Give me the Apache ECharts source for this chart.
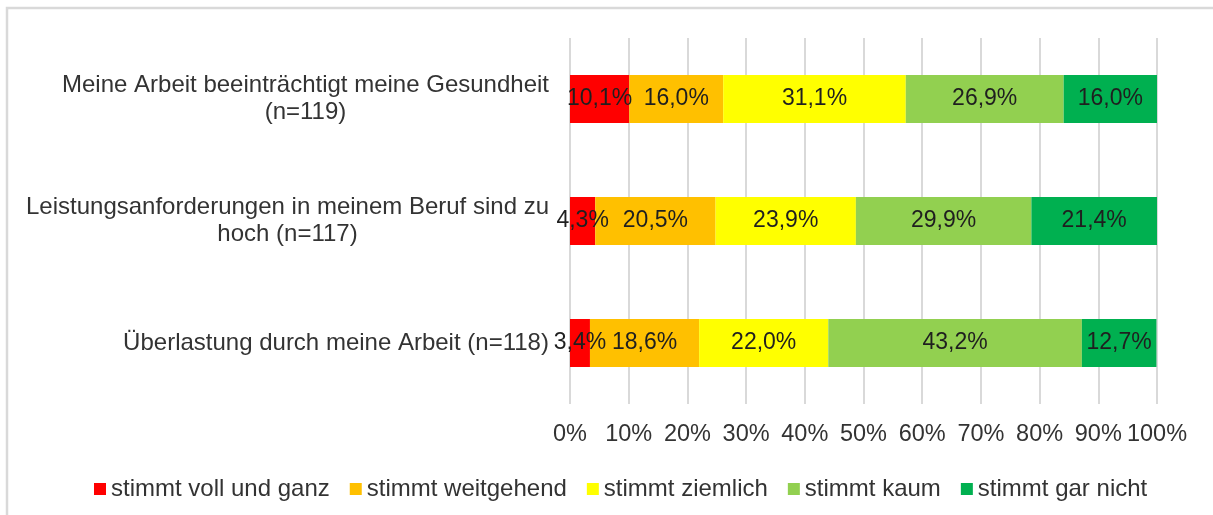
<!DOCTYPE html>
<html>
<head>
<meta charset="utf-8">
<script src="https://cdn.jsdelivr.net/npm/echarts@6/dist/echarts.min.js"></script>
<style>
  html, body { margin: 0; padding: 0; background: #fff; }
  #main { width: 1213px; height: 515px; }
</style>
</head>
<body>
<div id="main"></div>
<script>
// Kategorien (Zeilen, von oben nach unten)
var categories = [
  ['Meine Arbeit beeinträchtigt meine Gesundheit', '(n=119)'],
  ['Leistungsanforderungen in meinem Beruf sind zu', 'hoch (n=117)'],
  ['Überlastung durch meine Arbeit (n=118)']
];
var seriesNames = ['stimmt voll und ganz', 'stimmt weitgehend', 'stimmt ziemlich', 'stimmt kaum', 'stimmt gar nicht'];
var colors = ['#ff0000', '#ffc000', '#ffff00', '#92d050', '#00b050'];
// Werte in %, je Antwort eine Liste (Reihenfolge wie categories)
var vollUndGanz = [10.1, 4.3, 3.4];
var weitgehend = [16.0, 20.5, 18.6];
var ziemlich = [31.1, 23.9, 22.0];
var kaum = [26.9, 29.9, 43.2];
var garNicht = [16.0, 21.4, 12.7];
var xTicks = [0, 10, 20, 30, 40, 50, 60, 70, 80, 90, 100];

var values = [vollUndGanz, weitgehend, ziemlich, kaum, garNicht];
var fontFam = '"Liberation Sans", Arial, sans-serif';
var txtColor = '#333333';

// Breite der ersten Zeile messen, damit die zweite Zeile darunter zentriert steht
var cv = document.createElement('canvas').getContext('2d');
cv.font = '24px ' + fontFam;
var rich = {};
var catNames = [];
for (var i = 0; i < categories.length; i++) {
  var lines = categories[i];
  var w = Math.ceil(cv.measureText(lines[0]).width);
  rich['l' + i] = { width: w, align: 'center', fontSize: 24, color: txtColor, lineHeight: 27, fontFamily: fontFam };
  catNames.push(lines.map(function(t) { return '{l' + i + '|' + t + '}'; }).join('\n'));
}

var series = [];
for (var s = 0; s < seriesNames.length; s++) {
  series.push({
    name: seriesNames[s],
    type: 'bar',
    stack: 'total',
    barWidth: 48,
    itemStyle: { color: colors[s] },
    label: {
      show: true,
      position: 'inside',
      fontSize: 23,
      color: '#1f1f1f',
      fontFamily: fontFam,
      formatter: function(p) { return p.value.toFixed(1).replace('.', ',') + '%'; }
    },
    data: values[s]
  });
}

var chart = echarts.init(document.getElementById('main'));
chart.setOption({
  animation: false,
  backgroundColor: '#fff',
  color: colors,
  graphic: [{
    type: 'rect',
    shape: { x: 7, y: 8, width: 1230, height: 530 },
    style: { fill: 'none', stroke: '#d9d9d9', lineWidth: 2.5 },
    silent: true
  }],
  grid: { left: 570, right: 56, top: 38, bottom: 111, containLabel: false },
  legend: {
    left: 89,
    top: 472,
    icon: 'rect',
    itemWidth: 12,
    itemHeight: 12,
    itemGap: 20,
    textStyle: { fontSize: 24, color: txtColor, fontFamily: fontFam },
    data: seriesNames
  },
  xAxis: {
    type: 'value',
    min: 0,
    max: 100,
    interval: 10,
    axisLine: { show: false },
    axisTick: { show: false },
    splitLine: { show: true, lineStyle: { color: '#d9d9d9', width: 2 } },
    axisLabel: {
      margin: 19,
      fontSize: 23.5,
      color: txtColor,
      fontFamily: fontFam,
      formatter: function(v) { return xTicks.indexOf(v) >= 0 ? v + '%' : ''; }
    }
  },
  yAxis: {
    type: 'category',
    inverse: true,
    data: catNames,
    axisLine: { show: false },
    axisTick: { show: false },
    axisLabel: { margin: 21, fontSize: 24, color: txtColor, fontFamily: fontFam, rich: rich }
  },
  series: series
});
</script>
</body>
</html>
